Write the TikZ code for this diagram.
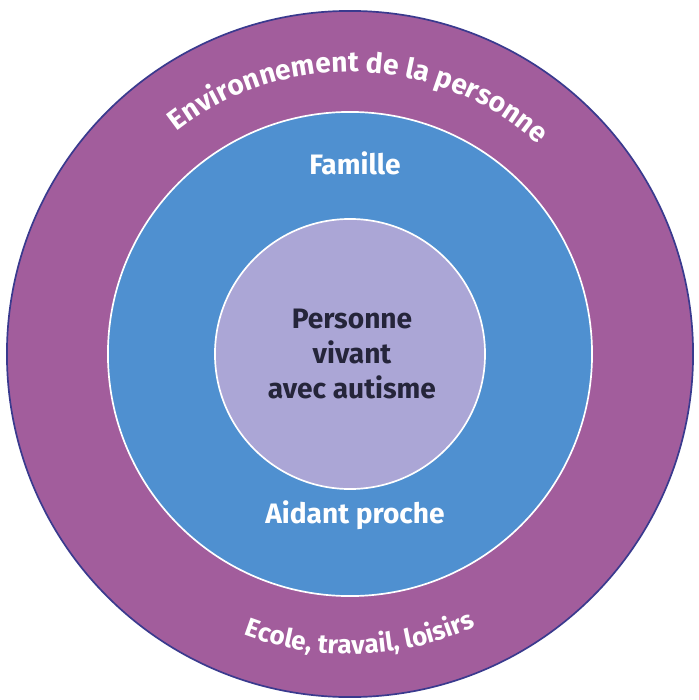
\documentclass[tikz,border=0pt]{standalone}
\usepackage{fontspec}
\setmainfont{Fira Sans}
\usetikzlibrary{decorations.text}

\definecolor{envpurple}{HTML}{A25D9C}
\definecolor{rimblue}{HTML}{3A3A8E}
\definecolor{famblue}{HTML}{4F90D0}
\definecolor{corelilac}{HTML}{ABA6D6}
\definecolor{coreink}{HTML}{25253A}

\tikzset{
  ring/.style={circle, draw=white, line width=1.2pt, inner sep=0pt},
  ringlabel/.style={font=\fontsize{20}{24}\selectfont\bfseries, text=white},
  corelabel/.style={font=\fontsize{20}{24.8}\selectfont\bfseries, text=coreink, align=center},
}

\begin{document}
\begin{tikzpicture}[x=0.025cm, y=0.025cm]
    \useasboundingbox (-350,-346) rectangle (349,354);
    % three rings
    \node (env) [ring, draw=rimblue, fill=envpurple, minimum size=17.15cm] at (0,0) {};
    \node (family) [ring, fill=famblue, minimum size=12.1cm] at (0,0) {};
    \node (core) [ring, fill=corelilac, minimum size=6.75cm] at (0,0) {};

    % labels
    \node (core text) [corelabel] at (2,0) {Personne\\vivant\\avec autisme};
    \node (famille) [ringlabel] at (5,191) {Famille};
    \node (aidant) [ringlabel] at (5,-161) {Aidant proche};

    % curved labels of the outer ring
    \path [decorate, decoration={text along path, text align=center,
        text={|\color{white}\fontsize{20}{24}\selectfont\bfseries|Environnement de la personne}}]
      (130:282) arc [start angle=130, end angle=46, radius=282];
    \path [decorate, decoration={text along path, text align=center,
        text={|\color{white}\fontsize{18.5}{22}\selectfont\bfseries|Ecole, travail, loisirs}}]
      (232:300) arc [start angle=232, end angle=312, radius=300];
\end{tikzpicture}
\end{document}
